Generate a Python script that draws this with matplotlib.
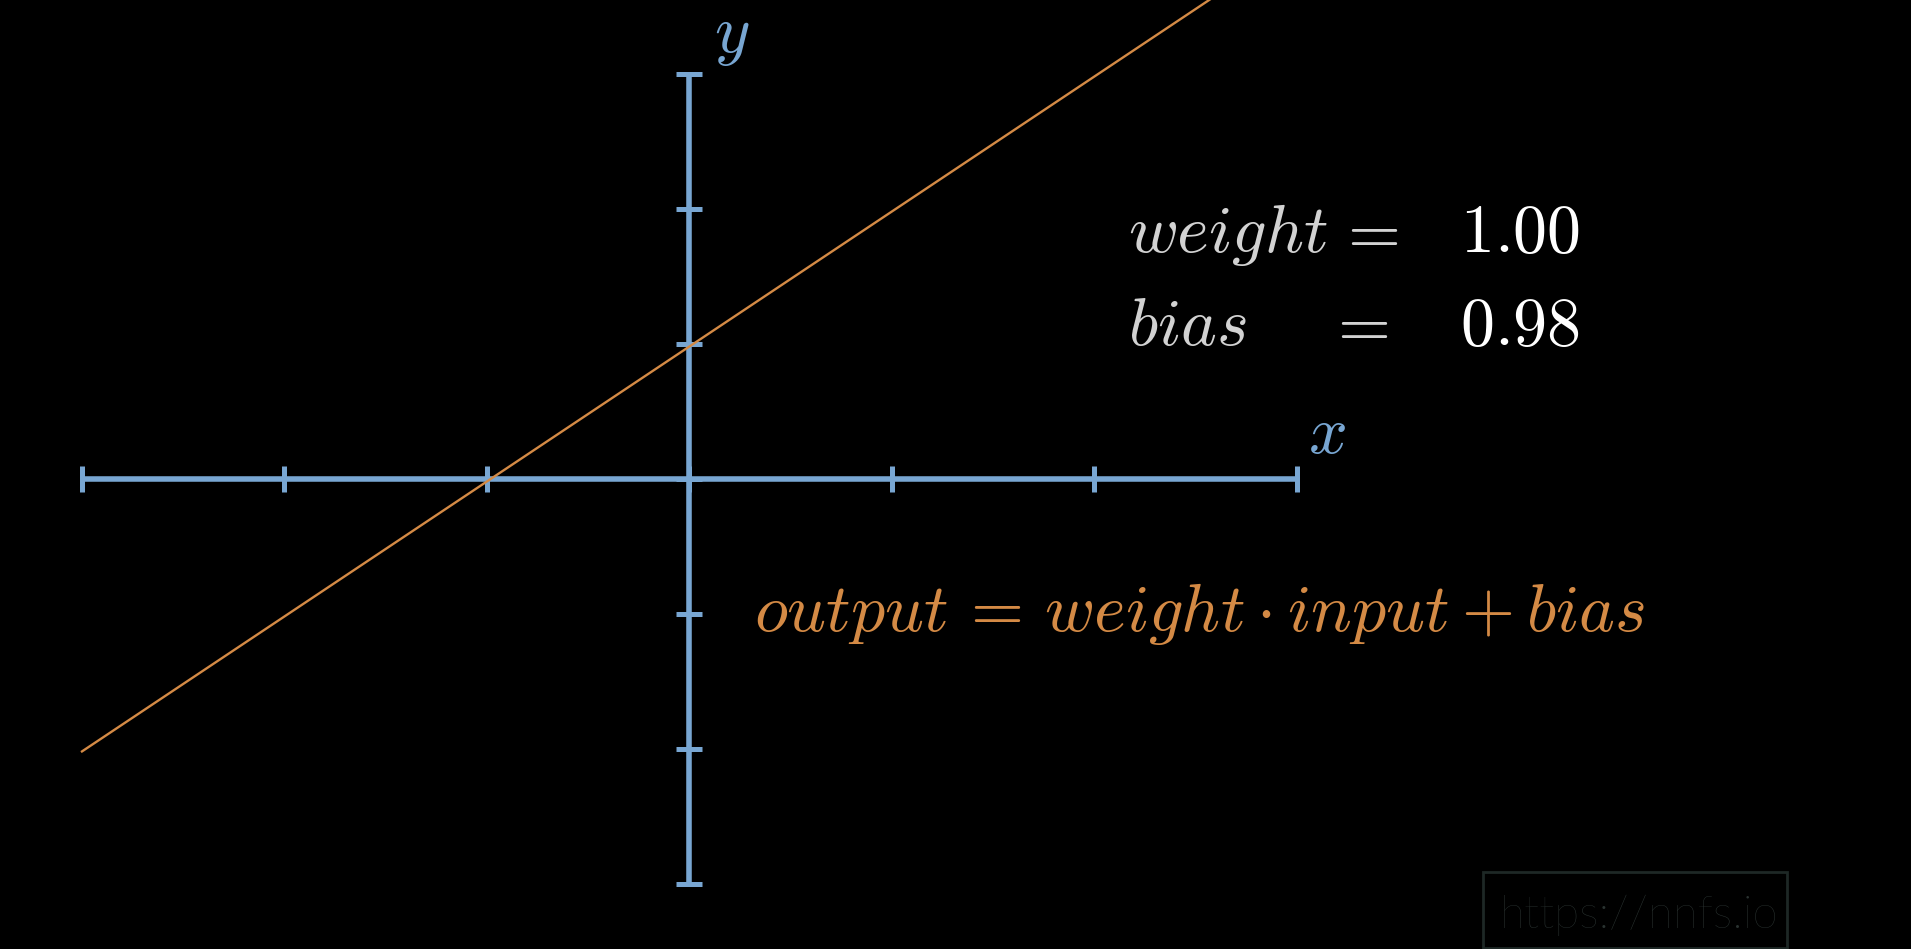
import matplotlib.pyplot as plt
from matplotlib.patches import Rectangle

plt.rcParams['mathtext.fontset'] = 'cm'

# axis ticks (data units)
x_ticks = [-3, -2, -1, 0, 1, 2, 3]
y_ticks = [-3, -2, -1, 0, 1, 2, 3]

# the fitted line: weight = 1.00, bias = 0.98
line_x = [-3.0, 3.0]
line_y = [-2.02, 3.98]
weight_text = '1.00'
bias_text = '0.98'

axis_color = '#78a6d2'
line_color = '#d48a45'

fig = plt.figure(figsize=(19.11, 9.49), dpi=100, facecolor='black')
ax = fig.add_axes([0, 0, 1, 1], facecolor='black')
ax.set_xlim(-3.405, 6.035)
ax.set_ylim(-3.484, 3.548)
ax.axis('off')

# axes lines
ax.plot([x_ticks[0], x_ticks[-1]], [0, 0], color=axis_color, lw=4, solid_capstyle='butt')
ax.plot([0, 0], [y_ticks[0], y_ticks[-1]], color=axis_color, lw=4, solid_capstyle='butt')
ax.plot(x_ticks, [0] * len(x_ticks), ls='none', marker='|', ms=19, mew=3.6, color=axis_color)
ax.plot([0] * len(y_ticks), y_ticks, ls='none', marker='_', ms=19, mew=3.6, color=axis_color)

# the line
ax.plot(line_x, line_y, color=line_color, lw=1.7)

W, H = 1911, 949
def px(x, y):
    return x / W, 1 - y / H

fs = 49
fig.text(*px(732, 35), r'$y$', color=axis_color, fontsize=fs, ha='center', va='center')
fig.text(*px(1327, 434), r'$x$', color=axis_color, fontsize=fs, ha='center', va='center')

fig.text(*px(1128, 252), r'$weight$', color='#d2d2d2', fontsize=fs, ha='left', va='baseline')
fig.text(*px(1336, 252), r'$=$', color='#d2d2d2', fontsize=fs, ha='left', va='baseline')
fig.text(*px(1460, 252), '$' + weight_text + '$', color='white', fontsize=fs, ha='left', va='baseline')
fig.text(*px(1128, 345), r'$bias$', color='#d2d2d2', fontsize=fs, ha='left', va='baseline')
fig.text(*px(1326, 345), r'$=$', color='#d2d2d2', fontsize=fs, ha='left', va='baseline')
fig.text(*px(1460, 345), '$' + bias_text + '$', color='white', fontsize=fs, ha='left', va='baseline')

fig.text(*px(754, 631), r'$output\,=\,weight \cdot input + bias$', color=line_color,
         fontsize=fs, ha='left', va='baseline')

# watermark
fig.patches.append(Rectangle(px(1483, 948), (1787 - 1483) / W, (948 - 872) / H,
                             transform=fig.transFigure, fill=False, edgecolor='#1e2826', lw=2))
fig.text(*px(1500, 928), 'https://nnfs.io', color='#2a3331', fontsize=33,
         family='Lato', fontweight='light', ha='left', va='baseline')

fig.savefig('out.png', dpi=100, facecolor='black')
